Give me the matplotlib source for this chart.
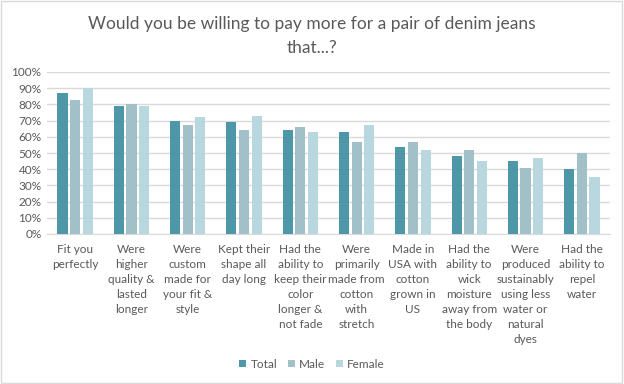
import matplotlib.pyplot as plt
import numpy as np

# Datos
categorias = [
    "Fit you\nperfectly",
    "Were\nhigher\nquality &\nlasted\nlonger",
    "Were\ncustom\nmade for\nyour fit &\nstyle",
    "Kept their\nshape all\nday long",
    "Had the\nability to\nkeep their\ncolor\nlonger &\nnot fade",
    "Were\nprimarily\nmade from\ncotton\nwith\nstretch",
    "Made in\nUSA with\ncotton\ngrown in\nUS",
    "Had the\nability to\nwick\nmoisture\naway from\nthe body",
    "Were\nproduced\nsustainably\nusing less\nwater or\nnatural\ndyes",
    "Had the\nability to\nrepel\nwater",
]
total = [87, 79, 70, 69, 64, 63, 54, 48, 45, 40]
male = [83, 80, 67, 64, 66, 57, 57, 52, 41, 50]
female = [90, 79, 72, 73, 63, 67, 52, 45, 47, 35]

series = ["Total", "Male", "Female"]
colores = ["#4E97A8", "#A2C0C8", "#B8D7DE"]
gris = "#595959"

plt.rcParams['font.family'] = ['Lato', 'DejaVu Sans']

fig = plt.figure(figsize=(6.24, 3.84), dpi=100)
ax = fig.add_axes([47 / 624, 1 - 234 / 384, 563 / 624, 162 / 384])

x = np.arange(len(categorias))
ancho = 0.18
for i, (vals, nombre, c) in enumerate(zip([total, male, female], series, colores)):
    ax.bar(x + (i - 1) * 0.225, vals, ancho, color=c, label=nombre, zorder=3)

ax.set_xlim(-0.5, len(categorias) - 0.5)
ax.set_ylim(0, 100)
ax.set_yticks(range(0, 101, 10))
ax.set_yticklabels([f"{v}%" for v in range(0, 101, 10)], color=gris, fontsize=8.5)
ax.set_xticks(x)
ax.set_xticklabels(categorias, color=gris, fontsize=8.5, va="top", linespacing=1.45)
ax.tick_params(axis="x", length=0, pad=7)
ax.tick_params(axis="y", length=0, pad=4)
ax.grid(axis="y", color="#D9D9D9", linewidth=1, zorder=0)
for s in ["top", "right", "left"]:
    ax.spines[s].set_visible(False)
ax.spines["bottom"].set_color("#D9D9D9")

fig.text(0.5, 1 - 36 / 384, "Would you be willing to pay more for a pair of denim jeans\nthat...?",
         ha="center", va="center", fontsize=12.5, color=gris, linespacing=1.65)

fig.legend(loc="center", bbox_to_anchor=(0.5, 1 - 364 / 384), ncol=3, frameon=False,
           fontsize=8.5, labelcolor=gris, handlelength=0.6, handleheight=0.6,
           handletextpad=0.35, columnspacing=0.9)

# borde del gráfico
fig.patches.append(plt.Rectangle((0.002, 0.003), 0.995, 0.994, transform=fig.transFigure,
                                 fill=False, edgecolor="#D9D9D9", linewidth=1))

fig.savefig("out.png", dpi=100)
